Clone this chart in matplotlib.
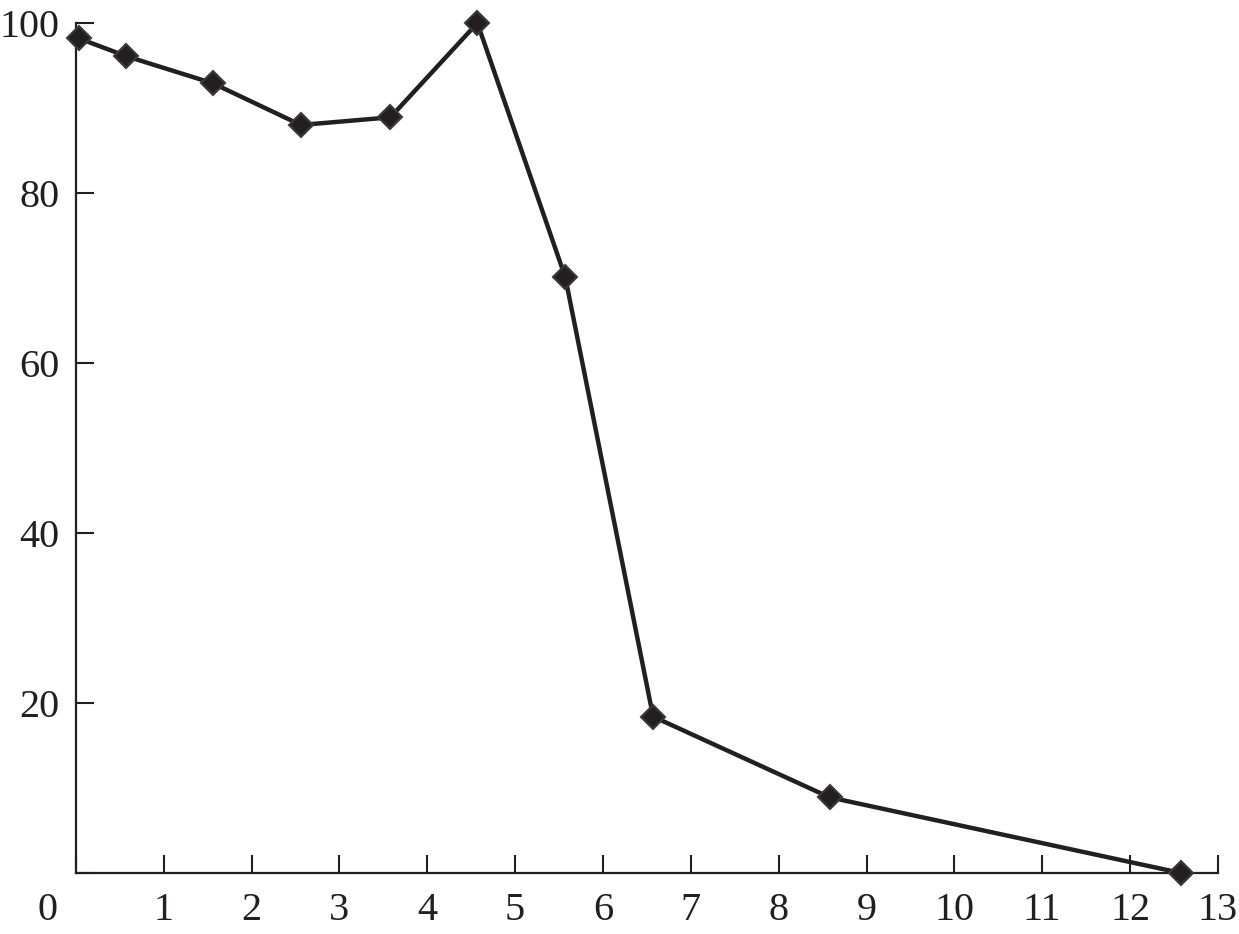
import matplotlib.pyplot as plt
import matplotlib.transforms as mtransforms

# values
x_vals = [0.03, 0.57, 1.56, 2.56, 3.58, 4.57, 5.57, 6.57, 8.58, 12.58]
y_vals = [98.2, 96.1, 92.9, 88.0, 88.9, 100.0, 70.1, 18.4, 8.9, 0.0]
x_ticks = list(range(0, 14))
y_ticks = [0, 20, 40, 60, 80, 100]
y_tick_labels = ["", "20", "40", "60", "80", "100"]

plt.rcParams["font.family"] = ["Liberation Serif", "DejaVu Serif"]

fig = plt.figure(figsize=(12.39, 9.34), dpi=100)
ax = fig.add_axes([0.0613, 0.0653, 0.9217, 0.9101])

ax.plot(x_vals, y_vals, color="#231f20", linewidth=3.2,
        marker="D", markersize=12, markerfacecolor="#231f20",
        markeredgecolor="#3a3a3a", markeredgewidth=1.5, clip_on=False, zorder=3)

ax.set_xlim(0, 13)
ax.set_ylim(0, 100)
ax.set_xticks(x_ticks)
ax.set_yticks(y_ticks)
ax.set_yticklabels(y_tick_labels)

for side in ("top", "right"):
    ax.spines[side].set_visible(False)
for side in ("left", "bottom"):
    ax.spines[side].set_linewidth(1.6)
    ax.spines[side].set_color("#231f20")

ax.tick_params(direction="in", length=13, width=1.5, colors="#231f20",
               labelsize=29, labelcolor="#231f20")
ax.tick_params(axis="x", pad=14)
ax.tick_params(axis="y", pad=12)

# the "0" label sits left of the corner in the reference
offset = mtransforms.ScaledTranslation(-28 / 100, 0, fig.dpi_scale_trans)
lbl0 = ax.get_xticklabels()[0]
lbl0.set_transform(lbl0.get_transform() + offset)

fig.savefig("out.png", dpi=100)
